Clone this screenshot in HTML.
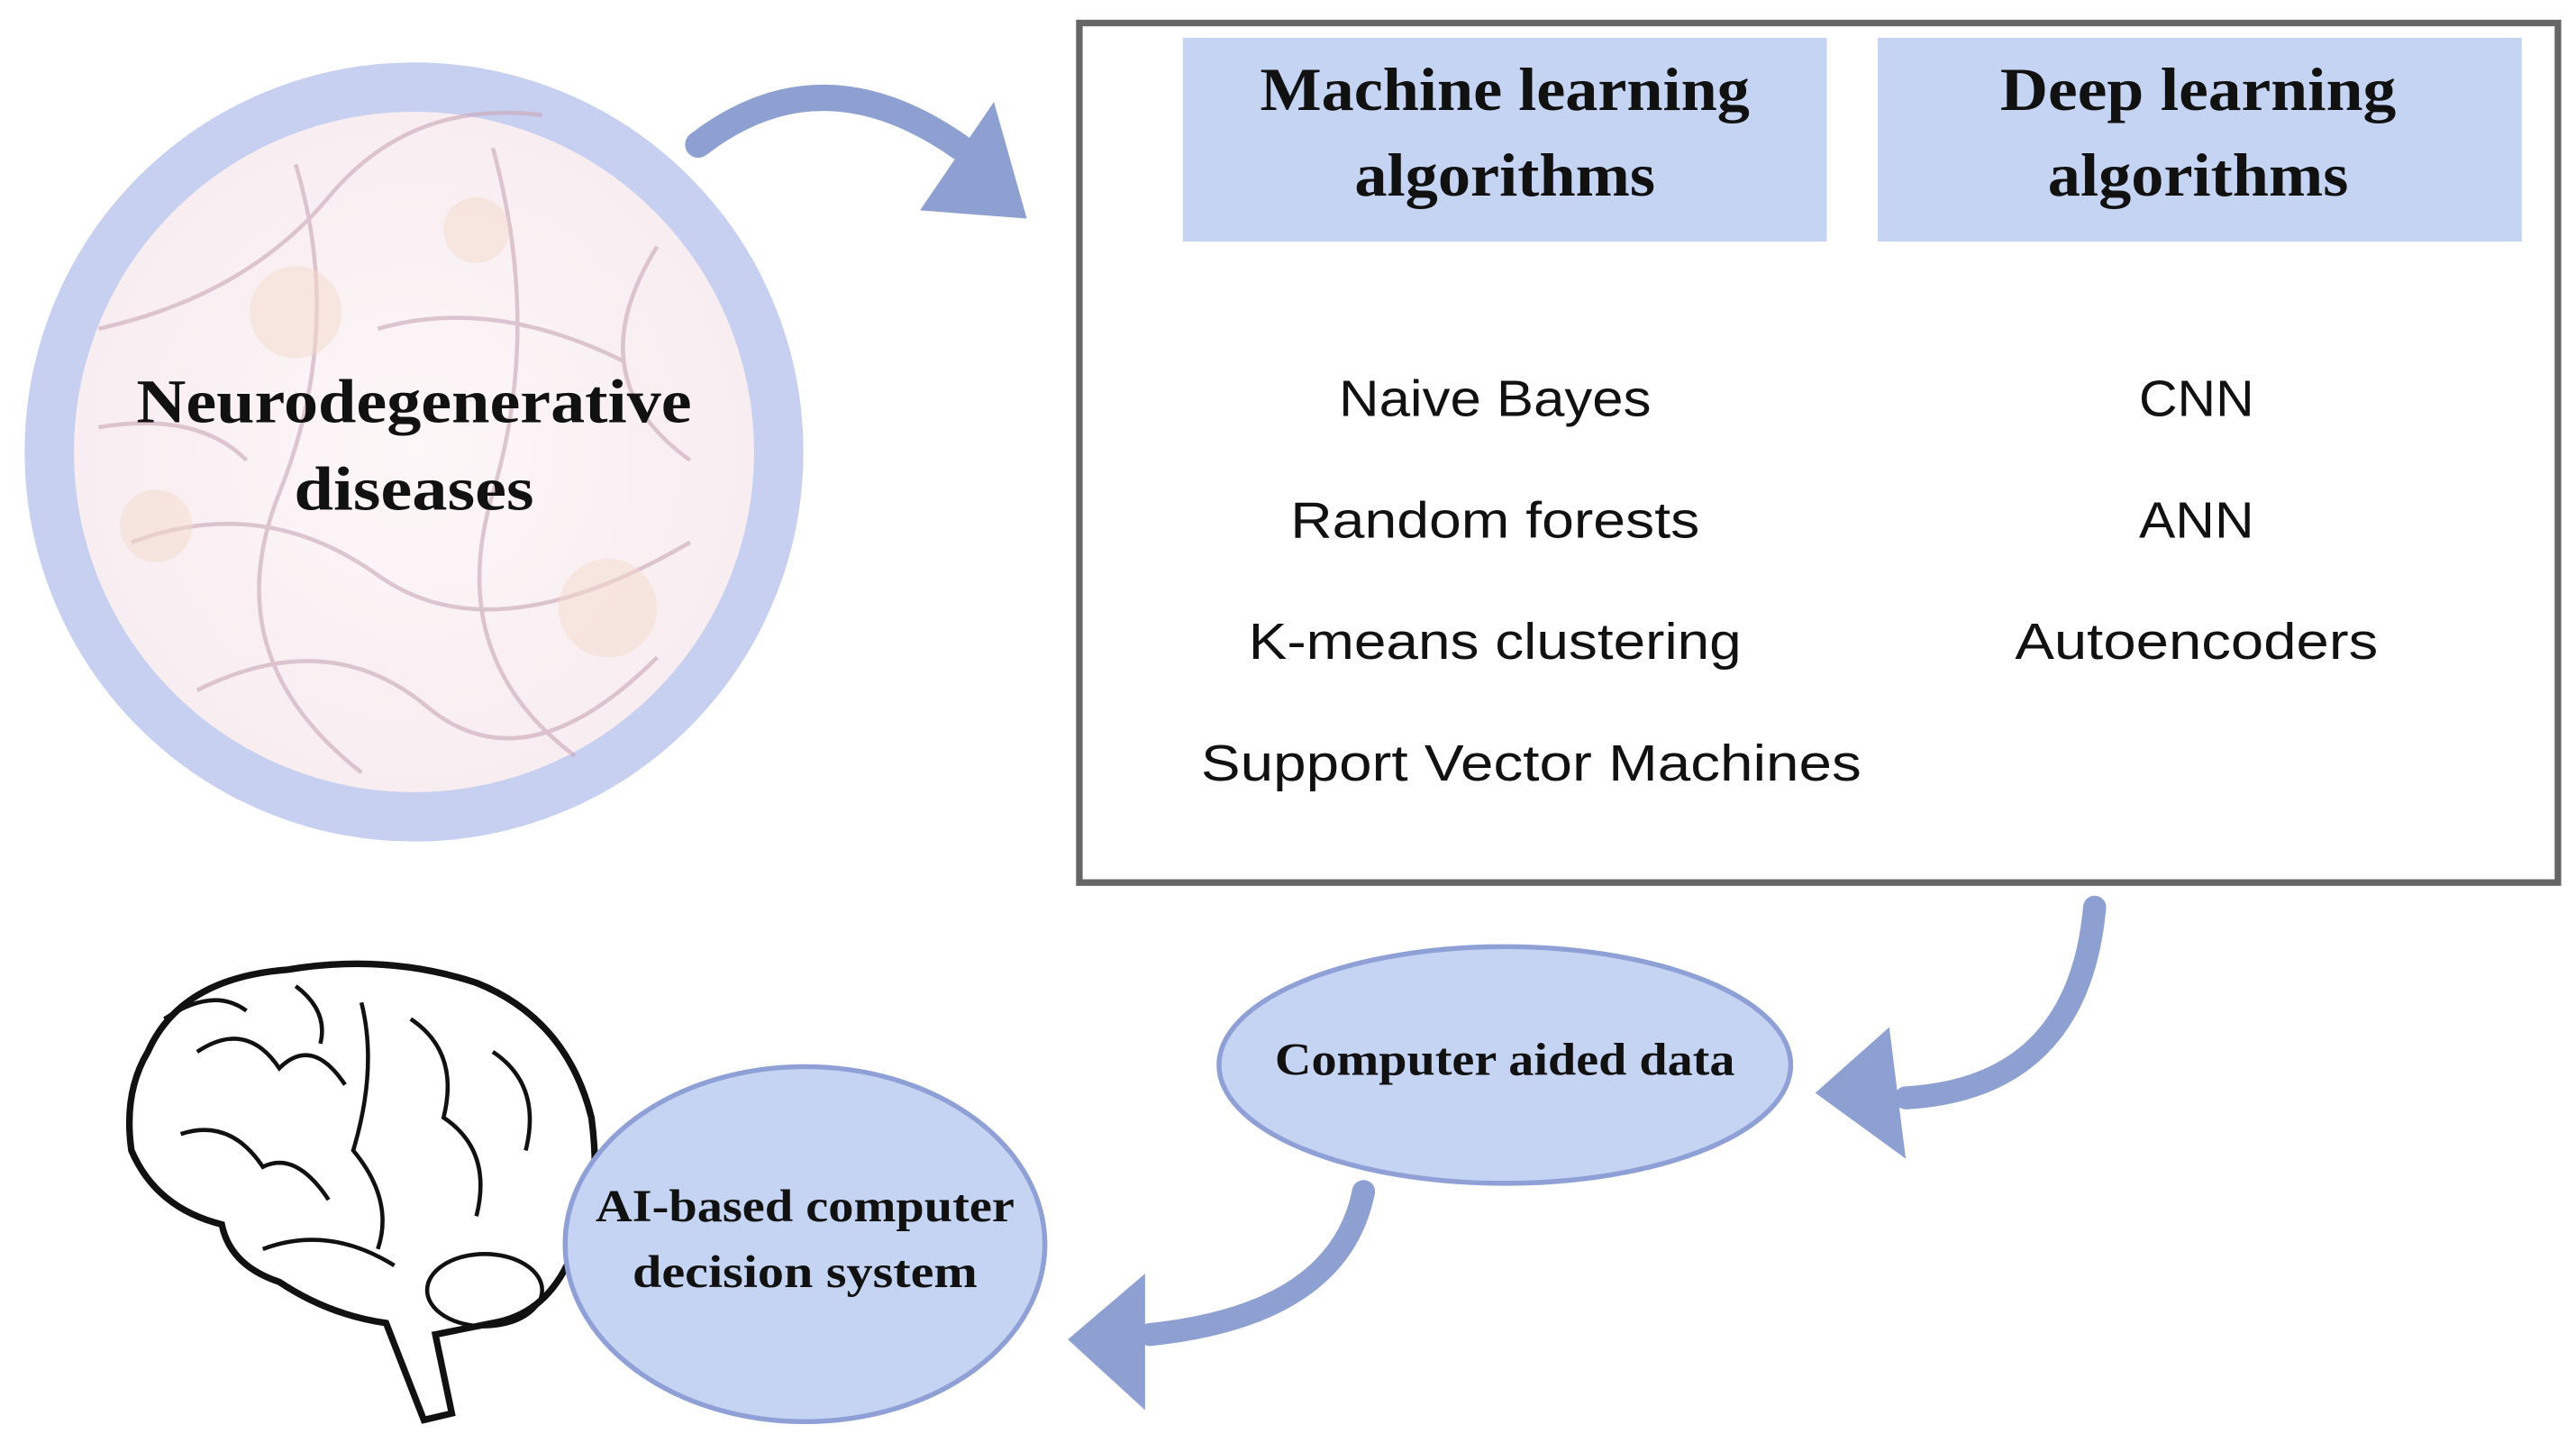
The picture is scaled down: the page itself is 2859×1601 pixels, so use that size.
<!DOCTYPE html>
<html><head><meta charset="utf-8"><style>html,body{margin:0;padding:0;background:#fff}svg{display:block}</style></head>
<body>
<svg width="2859" height="1601" viewBox="0 0 1568 878" preserveAspectRatio="none" xmlns="http://www.w3.org/2000/svg">
<defs>
<radialGradient id="g" cx="50%" cy="50%" r="50%"><stop offset="0" stop-color="#fdf7f8"/><stop offset="1" stop-color="#f8ecf0"/></radialGradient>
</defs>
<circle cx="252" cy="275" r="222" fill="url(#g)" stroke="#c7d0f0" stroke-width="30"/>
<g stroke="#c9a7b8" stroke-width="2.5" fill="none" opacity="0.6">
<path d="M60 200 Q150 180 200 120 T330 70"/><path d="M80 330 Q160 300 230 350 T420 330"/>
<path d="M120 420 Q200 380 260 430 T400 400"/><path d="M180 100 Q210 200 170 300 T220 470"/>
<path d="M300 90 Q330 200 300 300 T350 460"/><path d="M400 150 Q350 230 420 280"/>
<path d="M60 260 Q120 250 150 280"/><path d="M230 200 Q300 180 380 220"/>
</g>
<g fill="#f3d9cc" opacity="0.5"><circle cx="180" cy="190" r="28"/><circle cx="370" cy="370" r="30"/><circle cx="95" cy="320" r="22"/><circle cx="290" cy="140" r="20"/></g>
<g font-family="Liberation Serif, serif" font-weight="bold" font-size="38" fill="#111" text-anchor="middle">
<text x="252" y="257" textLength="338" lengthAdjust="spacingAndGlyphs">Neurodegenerative</text>
<text x="252" y="310" textLength="146" lengthAdjust="spacingAndGlyphs">diseases</text>
</g>
<g fill="none" stroke="#8e9fd2" stroke-linecap="round">
<path d="M425 88 Q500 30 585 90" stroke-width="16"/>
<path d="M1275 552 Q1265 662 1160 668" stroke-width="14"/>
<path d="M830 725 Q815 800 700 812" stroke-width="14"/>
</g>
<g fill="#8e9fd2">
<polygon points="605,62 560,128 625,133"/>
<polygon points="1105,665 1150,625 1160,705"/>
<polygon points="650,815 697,775 697,858"/>
</g>
<rect x="657" y="14" width="900" height="523" fill="#fff" stroke="#666" stroke-width="4"/>
<rect x="720" y="23" width="392" height="124" fill="#c6d4f4"/>
<rect x="1143" y="23" width="392" height="124" fill="#c6d4f4"/>
<g font-family="Liberation Serif, serif" font-weight="bold" font-size="37" fill="#111" text-anchor="middle">
<text x="916" y="67" textLength="298" lengthAdjust="spacingAndGlyphs">Machine learning</text>
<text x="916" y="119" textLength="183" lengthAdjust="spacingAndGlyphs">algorithms</text>
<text x="1338" y="67" textLength="241" lengthAdjust="spacingAndGlyphs">Deep learning</text>
<text x="1338" y="119" textLength="183" lengthAdjust="spacingAndGlyphs">algorithms</text>
</g>
<g font-family="Liberation Sans, sans-serif" font-size="31" fill="#111" text-anchor="middle">
<text x="910" y="253" textLength="190" lengthAdjust="spacingAndGlyphs">Naive Bayes</text>
<text x="910" y="327" textLength="249" lengthAdjust="spacingAndGlyphs">Random forests</text>
<text x="910" y="401" textLength="300" lengthAdjust="spacingAndGlyphs">K-means clustering</text>
<text x="932" y="475" textLength="402" lengthAdjust="spacingAndGlyphs">Support Vector Machines</text>
<text x="1337" y="253" textLength="70" lengthAdjust="spacingAndGlyphs">CNN</text>
<text x="1337" y="327" textLength="70" lengthAdjust="spacingAndGlyphs">ANN</text>
<text x="1337" y="401" textLength="221" lengthAdjust="spacingAndGlyphs">Autoencoders</text>
</g>
<ellipse cx="916" cy="648" rx="174" ry="72" fill="#c6d4f4" stroke="#8fa0d6" stroke-width="3"/>
<text x="916" y="654" text-anchor="middle" font-family="Liberation Serif, serif" font-weight="bold" font-size="28" fill="#111" textLength="280" lengthAdjust="spacingAndGlyphs">Computer aided data</text>
<g fill="#fff" stroke="#111" stroke-width="4">
<path d="M90 640 Q110 595 175 590 Q235 580 290 598 Q345 620 360 680 Q368 740 345 770 Q330 800 300 805 L265 812 L275 860 L258 864 L235 805 Q200 800 170 780 Q140 770 135 745 Q95 735 80 700 Q75 665 90 640 Z"/>
</g>
<g fill="none" stroke="#111" stroke-width="2.5">
<path d="M120 640 Q150 620 170 650 Q190 630 210 660"/><path d="M220 610 Q230 650 215 700 Q240 730 230 760"/>
<path d="M250 620 Q280 640 270 680 Q300 700 290 740"/><path d="M110 690 Q140 680 160 710 Q180 700 200 730"/>
<path d="M300 640 Q330 660 320 700"/><path d="M160 760 Q200 745 240 770"/>
<path d="M100 620 Q130 600 150 615"/><path d="M180 600 Q200 615 195 635"/>
<ellipse cx="295" cy="785" rx="35" ry="22"/>
</g>
<ellipse cx="490" cy="757" rx="146" ry="108" fill="#c6d4f4" stroke="#8fa0d6" stroke-width="3"/>
<g font-family="Liberation Serif, serif" font-weight="bold" font-size="28" fill="#111" text-anchor="middle">
<text x="490" y="743" textLength="255" lengthAdjust="spacingAndGlyphs">AI-based computer</text>
<text x="490" y="783" textLength="210" lengthAdjust="spacingAndGlyphs">decision system</text>
</g>
</svg>
</body></html>
